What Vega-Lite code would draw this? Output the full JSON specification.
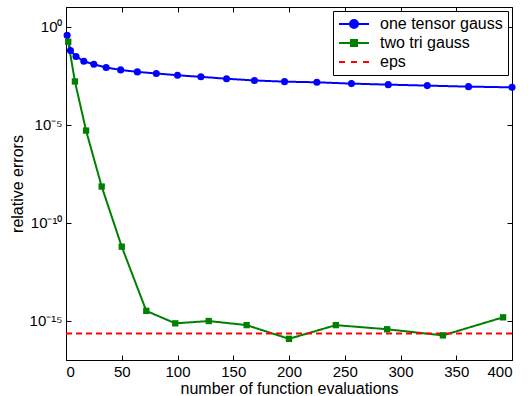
{
  "$schema": "https://vega.github.io/schema/vega-lite/v6.json",
  "width": 446,
  "height": 353,
  "autosize": {"type": "none"},
  "padding": {"left": 66, "top": 7, "right": 16, "bottom": 36},
  "config": {
    "font": "Liberation Sans",
    "view": {"stroke": "black", "strokeWidth": 1},
    "axis": {
      "grid": false,
      "domainColor": "black",
      "tickColor": "black",
      "labelColor": "black",
      "titleColor": "black",
      "labelFont": "Liberation Sans",
      "titleFont": "Liberation Sans",
      "labelFontSize": 15,
      "titleFontSize": 16,
      "titleFontWeight": "normal",
      "tickSize": -5,
      "labelPadding": 9
    }
  },
  "data": {
    "values": [
      {"series": "one tensor gauss", "x": 1, "y": 0.36},
      {"series": "one tensor gauss", "x": 4, "y": 0.06},
      {"series": "one tensor gauss", "x": 9, "y": 0.030},
      {"series": "one tensor gauss", "x": 16, "y": 0.017},
      {"series": "one tensor gauss", "x": 25, "y": 0.012},
      {"series": "one tensor gauss", "x": 36, "y": 0.0082},
      {"series": "one tensor gauss", "x": 49, "y": 0.0062},
      {"series": "one tensor gauss", "x": 64, "y": 0.0049},
      {"series": "one tensor gauss", "x": 81, "y": 0.0041},
      {"series": "one tensor gauss", "x": 100, "y": 0.0033},
      {"series": "one tensor gauss", "x": 121, "y": 0.00275},
      {"series": "one tensor gauss", "x": 144, "y": 0.0022},
      {"series": "one tensor gauss", "x": 169, "y": 0.0018},
      {"series": "one tensor gauss", "x": 196, "y": 0.00156},
      {"series": "one tensor gauss", "x": 225, "y": 0.00145},
      {"series": "one tensor gauss", "x": 256, "y": 0.00124},
      {"series": "one tensor gauss", "x": 289, "y": 0.0011},
      {"series": "one tensor gauss", "x": 324, "y": 0.00098},
      {"series": "one tensor gauss", "x": 361, "y": 0.00087},
      {"series": "one tensor gauss", "x": 400, "y": 0.00080},
      {"series": "two tri gauss", "x": 2, "y": 0.17},
      {"series": "two tri gauss", "x": 8, "y": 0.0016},
      {"series": "two tri gauss", "x": 18, "y": 5e-6},
      {"series": "two tri gauss", "x": 32, "y": 7e-9},
      {"series": "two tri gauss", "x": 50, "y": 6e-12},
      {"series": "two tri gauss", "x": 72, "y": 3.2e-15},
      {"series": "two tri gauss", "x": 98, "y": 7.4e-16},
      {"series": "two tri gauss", "x": 128, "y": 9.7e-16},
      {"series": "two tri gauss", "x": 162, "y": 6e-16},
      {"series": "two tri gauss", "x": 200, "y": 1.2e-16},
      {"series": "two tri gauss", "x": 242, "y": 6e-16},
      {"series": "two tri gauss", "x": 288, "y": 3.7e-16},
      {"series": "two tri gauss", "x": 338, "y": 1.8e-16},
      {"series": "two tri gauss", "x": 392, "y": 1.5e-15},
      {"series": "eps", "x": 0, "y": 2.22e-16},
      {"series": "eps", "x": 400, "y": 2.22e-16}
    ]
  },
  "resolve": {"axis": {"x": "independent", "y": "independent"}},
  "layer": [
    {
      "mark": {"type": "line", "strokeWidth": 2, "clip": true},
      "encoding": {
        "x": {"field": "x", "type": "quantitative", "scale": {"domain": [0, 400], "nice": false},
              "axis": {"title": "number of function evaluations", "values": [0, 50, 100, 150, 200, 250, 300, 350, 400], "titlePadding": 1}},
        "y": {"field": "y", "type": "quantitative", "scale": {"type": "log", "domain": [1e-17, 10], "nice": false},
              "axis": {"title": "relative errors", "values": [1, 1e-5, 1e-10, 1e-15], "titlePadding": 4,
                       "labelExpr": "datum.value >= 0.5 ? '10⁰' : datum.value > 1e-7 ? '10⁻⁵' : datum.value > 1e-12 ? '10⁻¹⁰' : '10⁻¹⁵'"}},
        "color": {"field": "series", "type": "nominal",
                  "scale": {"domain": ["eps", "one tensor gauss", "two tri gauss"], "range": ["#ff0000", "#0000ff", "#008000"]},
                  "legend": null},
        "strokeDash": {"field": "series", "type": "nominal",
                       "scale": {"domain": ["two tri gauss", "eps", "one tensor gauss"], "range": [[1, 0], [6, 4], [1, 0]]},
                       "legend": null},
        "order": {"field": "x", "type": "quantitative"}
      }
    },
    {
      "transform": [{"filter": "datum.series == 'one tensor gauss'"}],
      "mark": {"type": "point", "shape": "circle", "filled": true, "opacity": 1, "size": 50, "color": "#0000ff"},
      "encoding": {
        "x": {"field": "x", "type": "quantitative", "axis": {"orient": "top", "labels": false, "title": null, "domain": false, "values": [0, 50, 100, 150, 200, 250, 300, 350, 400]}},
        "y": {"field": "y", "type": "quantitative", "axis": {"orient": "right", "labels": false, "title": null, "domain": false, "values": [1, 1e-5, 1e-10, 1e-15]}}
      }
    },
    {
      "transform": [{"filter": "datum.series == 'two tri gauss'"}],
      "mark": {"type": "point", "shape": "square", "filled": true, "opacity": 1, "size": 40, "color": "#008000"},
      "encoding": {
        "x": {"field": "x", "type": "quantitative", "axis": null},
        "y": {"field": "y", "type": "quantitative", "axis": null}
      }
    },
    {
      "transform": [{"filter": "datum.series == 'none'"}],
      "mark": {"type": "point", "filled": true, "opacity": 1},
      "encoding": {
        "x": {"field": "x", "type": "quantitative", "axis": null},
        "y": {"field": "y", "type": "quantitative", "axis": null},
        "fill": {"field": "series", "type": "nominal",
                 "scale": {"domain": ["one tensor gauss", "two tri gauss", "eps"], "range": ["#0000ff", "#008000", "#ff0000"]},
                 "legend": {
                    "title": null,
                    "orient": "top-right",
                    "offset": 4,
                    "padding": 5,
                    "strokeColor": "black",
                    "fillColor": "white",
                    "labelFont": "Liberation Sans",
                    "labelFontSize": 16,
                    "labelColor": "black",
                    "symbolSize": 100,
                    "symbolOffset": 8,
                    "symbolStrokeWidth": 2,
                    "symbolOpacity": 1,
                    "rowPadding": 3,
                    "labelOffset": 18
                 }},
        "stroke": {"field": "series", "type": "nominal",
                   "scale": {"domain": ["one tensor gauss", "two tri gauss", "eps"], "range": ["#0000ff", "#008000", "#ff0000"]},
                   "legend": {"title": null}},
        "shape": {"field": "series", "type": "nominal",
                  "scale": {"domain": ["one tensor gauss", "two tri gauss", "eps"],
                            "range": ["M-3,0H3M-0.8,0A0.8,0.8,0,1,0,0.8,0A0.8,0.8,0,1,0,-0.8,0Z", "M-3,0H3M-0.6,-0.6H0.6V0.6H-0.6Z", "M-3,0H-1.8M-0.6,0H0.6M1.8,0H3"]},
                  "legend": {"title": null}}
      }
    }
  ]
}
